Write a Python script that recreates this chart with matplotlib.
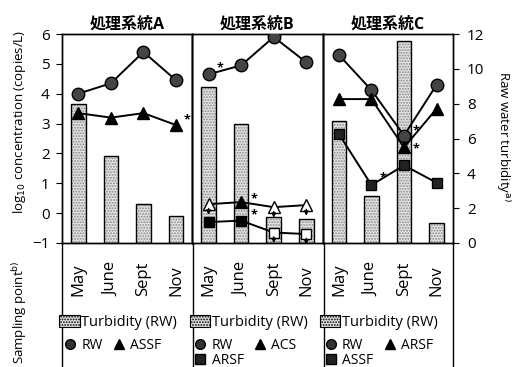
import numpy as np
import matplotlib
matplotlib.use('Agg')
import matplotlib.pyplot as plt
from matplotlib.lines import Line2D
from matplotlib.patches import Patch

plt.rcParams['font.family'] = ['Open Sans', 'Noto Sans CJK JP', 'DejaVu Sans']
plt.rcParams['hatch.color'] = '#8a8a8a'
plt.rcParams['hatch.linewidth'] = 0.9

months = ['May', 'June', 'Sept', 'Nov']
titles = ['処理系統A', '処理系統B', '処理系統C']

# raw water turbidity (right axis)
turb_A = [8.0, 5.0, 2.25, 1.55]
turb_B = [8.95, 6.85, 1.5, 1.4]
turb_C = [7.0, 2.7, 11.6, 1.15]

# log10 concentration, copies/L
rw_A = [4.0, 4.35, 5.4, 4.45]
assf_A = [3.35, 3.2, 3.35, 2.95]

rw_B = [4.65, 4.95, 5.9, 5.05]
acs_B = [0.3, 0.37, 0.2, 0.27]
arsf_B = [-0.3, -0.25, -0.65, -0.7]
acs_B_lod = [True, False, True, True]
arsf_B_lod = [False, False, True, True]

rw_C = [5.3, 4.12, 2.6, 4.3]
arsf_C = [3.82, 3.82, 2.2, 3.5]
assf_C = [2.65, 0.94, 1.6, 1.02]

x = np.arange(4) + 0.5

fig = plt.figure(figsize=(5.12, 3.67), dpi=100)
left, bottom, w, h = 62 / 512, 1 - 243 / 367, 130.3 / 512, 209 / 367

panels = []
for i in range(3):
    ax = fig.add_axes([left + i * w, bottom, w, h])
    tw = ax.twinx()
    ax.set_zorder(2)
    ax.patch.set_visible(False)
    tw.set_zorder(1)
    ax.set_xlim(0, 4)
    ax.set_ylim(-1, 6)
    tw.set_ylim(0, 12)
    ax.set_xticks([])
    for a in (ax, tw):
        for s in a.spines.values():
            s.set_linewidth(1.0)
    ax.tick_params(axis='y', left=(i == 0), labelleft=(i == 0), right=False,
                   direction='out', length=4, labelsize=11, pad=5)
    tw.tick_params(axis='y', right=(i == 2), labelright=(i == 2), left=False,
                   direction='out', length=4, labelsize=11, pad=6)
    tw.set_yticks(np.arange(0, 13, 2))
    ax.set_yticks(np.arange(-1, 7, 1))
    ax.set_title(titles[i], fontsize=11.5, fontweight='bold', pad=4)
    for xi, m in zip(x, months):
        ax.text(xi, -0.255, m, transform=ax.get_xaxis_transform(), rotation=90,
                ha='center', va='bottom', fontsize=12)
    panels.append((ax, tw))


def bars(tw, vals):
    tw.bar(x, vals, width=0.45, color='#e2e2e2', hatch='......', linewidth=0)
    tw.bar(x, vals, width=0.45, fill=False, edgecolor='black', linewidth=1.0)


def series(ax, vals, marker, ms, face='#333333', lod=None):
    ax.plot(x, vals, color='black', lw=1.4, zorder=3)
    for i, v in enumerate(vals):
        open_ = lod is not None and lod[i]
        ax.plot(x[i], v, marker=marker, ms=ms, mfc='white' if open_ else face,
                mec='black', mew=1.0, zorder=4)
        if open_:
            ax.annotate('', xy=(x[i], v - 0.45), xytext=(x[i], v - 0.05),
                        arrowprops=dict(arrowstyle='-|>', color='black', lw=1.0,
                                        mutation_scale=6),
                        annotation_clip=False, zorder=5)


def star(ax, xi, v, dx=7, dy=4):
    ax.annotate('*', xy=(x[xi], v), xytext=(dx, dy), textcoords='offset points',
                fontsize=9, fontweight='bold', ha='center', va='center', zorder=6)


# panel A
ax, tw = panels[0]
bars(tw, turb_A)
series(ax, rw_A, 'o', 9, face='#444444')
series(ax, assf_A, '^', 8, face='black')
star(ax, 3, assf_A[3], 8, 4)

# panel B
ax, tw = panels[1]
bars(tw, turb_B)
series(ax, rw_B, 'o', 9, face='#444444')
series(ax, acs_B, '^', 8, face='black', lod=acs_B_lod)
series(ax, arsf_B, 's', 7.5, face='black', lod=arsf_B_lod)
star(ax, 0, rw_B[0], 8, 5)
star(ax, 1, acs_B[1], 9, 2)
star(ax, 1, arsf_B[1], 9, 4)

# panel C
ax, tw = panels[2]
bars(tw, turb_C)
series(ax, rw_C, 'o', 9, face='#444444')
series(ax, arsf_C, '^', 8, face='black')
series(ax, assf_C, 's', 7.5, face='#222222')
star(ax, 1, assf_C[1], 8, 5)
star(ax, 2, rw_C[2], 9, 3)
star(ax, 2, arsf_C[2], 9, -1)

# legends under each panel
bar_h = Patch(facecolor='#e2e2e2', edgecolor='black', hatch='......', lw=0.8,
              label='Turbidity (RW)')
rw_h = Line2D([], [], ls='', marker='o', ms=7, mfc='#333333', mec='black', label='RW')


def tri(lbl):
    return Line2D([], [], ls='', marker='^', ms=7, mfc='black', mec='black', label=lbl)


def sq(lbl):
    return Line2D([], [], ls='', marker='s', ms=7, mfc='#222222', mec='black', label=lbl)


legend_items = [[rw_h, tri('ASSF')],
                [rw_h, sq('ARSF'), tri('ACS')],
                [rw_h, sq('ASSF'), tri('ARSF')]]

for (ax, tw), items in zip(panels, legend_items):
    lg = ax.legend(handles=[bar_h], loc='upper left', bbox_to_anchor=(-0.02, -0.345),
                   frameon=False, fontsize=10.5, handlelength=1.4, handleheight=0.8,
                   handletextpad=0.1, borderaxespad=0, borderpad=0)
    ax.add_artist(lg)
    ax.legend(handles=items, loc='upper left', bbox_to_anchor=(0.02, -0.455), ncol=2,
              frameon=False, fontsize=10, handlelength=0.8, handletextpad=0.4,
              columnspacing=0.8, labelspacing=0.0, borderaxespad=0, borderpad=0)

# panel dividers continue down through the label area
for px in (62, 193.3, 323.6, 453):
    fig.add_artist(Line2D([px / 512, px / 512], [0, bottom], color='black', lw=1.0))

fig.text(20 / 512, 1 - 122 / 367, 'log$_{10}$ concentration (copies/L)', rotation=90,
         ha='center', va='center', fontsize=9.5)
fig.text(20 / 512, 1 - 312 / 367, 'Sampling point$^{\\rm b)}$', rotation=90,
         ha='center', va='center', fontsize=9.5)
fig.text(503 / 512, 1 - 136 / 367, 'Raw water turbidity$^{\\rm a)}$', rotation=270,
         ha='center', va='center', fontsize=9.5)

fig.savefig('out.png', dpi=100)
